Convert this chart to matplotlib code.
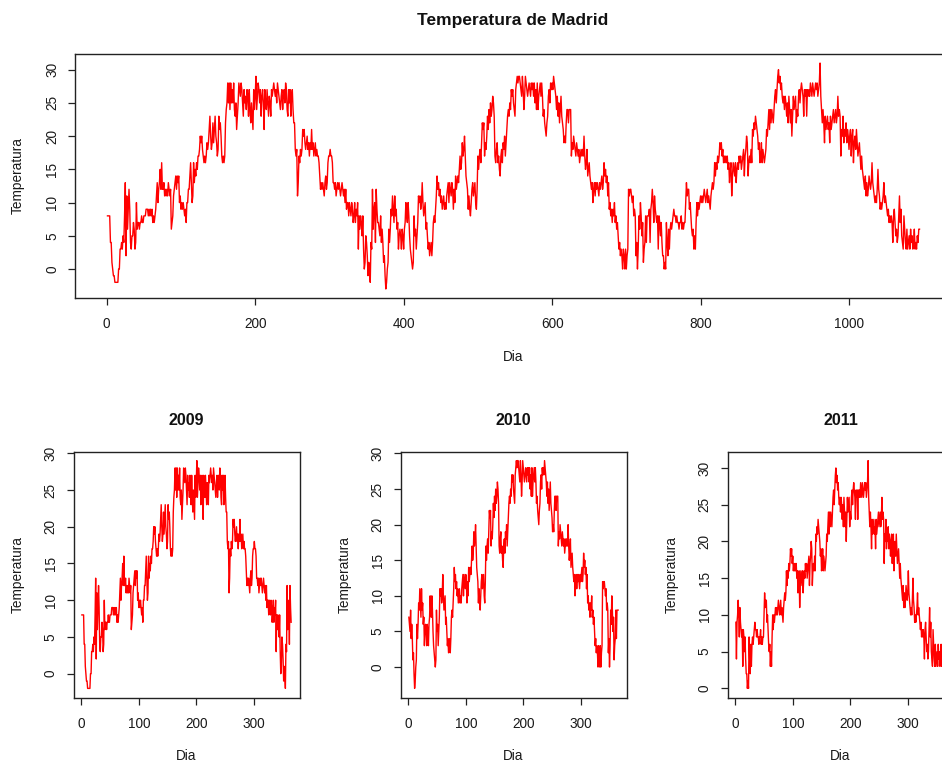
import numpy as np
import matplotlib
matplotlib.use("Agg")
import matplotlib.pyplot as plt
from matplotlib.ticker import MultipleLocator

plt.rcParams['font.family'] = ['Liberation Sans', 'DejaVu Sans']

# Daily temperatures, one list per year
temp_2009 = [
    8, 8, 8, 8, 4,  4, 1, 0, -1, -1,  -2, -2, -2, -2, -2,  0, 0, 3, 3, 4,
    3, 5, 4, 8, 13,  2, 11, 6, 9, 12,  9, 4, 3, 5, 5,  7, 6, 3, 4, 10,
    6, 7, 7, 6, 7,  7, 8, 7, 7, 8,  8, 8, 9, 9, 9,  8, 9, 8, 9, 8,
    9, 7, 8, 7, 8,  9, 11, 13, 10, 12,  13, 15, 12, 16, 12,  12, 13, 11, 12, 11,
    12, 11, 13, 12, 11,  12, 6, 7, 8, 11,  12, 13, 14, 12, 14,  13, 14, 10, 11, 9,
    10, 9, 10, 9, 8,  9, 7, 10, 10, 12,  12, 14, 16, 13, 10,  11, 16, 13, 15, 14,
    16, 15, 17, 17, 18,  20, 19, 20, 18, 17,  16, 17, 16, 17, 19,  18, 19, 21, 23, 20,
    18, 19, 22, 19, 21,  23, 20, 19, 17, 18,  23, 21, 22, 20, 17,  16, 17, 16, 17, 22,
    24, 25, 28, 25, 28,  24, 28, 25, 27, 25,  28, 24, 23, 25, 21,  23, 25, 28, 27, 26,
    28, 27, 25, 23, 27,  25, 26, 24, 27, 26,  23, 27, 24, 22, 25,  23, 21, 27, 24, 26,
    29, 24, 26, 28, 27,  25, 27, 23, 26, 27,  25, 21, 27, 25, 24,  27, 25, 23, 26, 25,
    23, 27, 26, 27, 28,  27, 26, 27, 25, 28,  27, 26, 25, 24, 26,  27, 24, 26, 27, 25,
    28, 27, 24, 23, 27,  25, 27, 23, 26, 27,  24, 22, 22, 18, 17,  18, 11, 13, 17, 16,
    18, 17, 18, 21, 20,  21, 19, 18, 19, 20,  18, 19, 17, 19, 18,  21, 18, 19, 17, 18,
    19, 17, 18, 17, 17,  16, 14, 12, 13, 12,  13, 12, 11, 13, 14,  12, 13, 16, 17, 17,
    18, 17, 17, 16, 13,  13, 12, 13, 11, 12,  13, 12, 13, 12, 11,  12, 13, 12, 11, 12,
    10, 12, 9, 10, 10,  8, 10, 9, 8, 10,  9, 7, 8, 10, 7,  9, 8, 10, 3, 8,
    6, 8, 7, 5, 8,  3, 0, 1, 5, 4,  2, -1, 1, 0, -2,  4, 3, 12, 6, 9,
    10, 4, 12, 9, 7,
]

temp_2010 = [
    7, 6, 5, 8, 4,  6, 4, 1, 2, -1,  -3, -2, 0, 1, 6,  4, 6, 9, 8, 11,
    9, 7, 11, 8, 9,  6, 7, 3, 5, 6,  5, 3, 6, 5, 3,  6, 7, 10, 8, 7,
    10, 8, 5, 3, 2,  1, 0, 1, 8, 5,  6, 3, 5, 7, 11,  10, 11, 9, 10, 13,
    10, 8, 9, 10, 6,  7, 5, 3, 4, 2,  3, 4, 2, 4, 7,  8, 7, 9, 11, 14,
    12, 13, 11, 12, 10,  11, 9, 10, 11, 9,  10, 9, 11, 12, 13,  10, 13, 12, 11, 13,
    12, 9, 12, 10, 14,  12, 13, 14, 13, 15,  17, 15, 16, 19, 17,  18, 20, 17, 14, 13,
    12, 9, 11, 9, 8,  10, 12, 13, 11, 12,  13, 10, 9, 12, 17,  15, 17, 18, 16, 19,
    22, 21, 22, 17, 19,  18, 20, 23, 21, 24,  22, 25, 23, 24, 26,  25, 23, 17, 16, 18,
    19, 16, 17, 15, 14,  17, 18, 16, 19, 18,  20, 17, 19, 21, 23,  24, 23, 25, 24, 27,
    26, 27, 25, 24, 23,  27, 28, 29, 28, 29,  29, 28, 27, 26, 29,  27, 24, 26, 29, 28,
    27, 26, 27, 28, 27,  26, 28, 27, 28, 26,  28, 25, 27, 24, 28,  24, 26, 27, 28, 26,
    28, 26, 23, 24, 22,  21, 20, 22, 23, 26,  27, 25, 28, 27, 28,  27, 29, 28, 27, 26,
    24, 26, 23, 25, 22,  24, 26, 23, 22, 21,  19, 20, 19, 22, 24,  24, 22, 24, 24, 24,
    17, 19, 18, 20, 19,  18, 17, 19, 18, 17,  18, 16, 17, 18, 17,  18, 17, 20, 17, 15,
    16, 18, 14, 15, 16,  14, 13, 12, 13, 10,  12, 13, 11, 13, 12,  13, 12, 11, 13, 12,
    13, 14, 12, 13, 16,  14, 15, 13, 14, 11,  13, 9, 10, 8, 9,  7, 9, 8, 10, 7,
    8, 6, 7, 5, 3,  4, 2, 3, 2, 0,  3, 2, 0, 3, 0,  2, 3, 12, 11, 12,
    12, 11, 10, 11, 8,  9, 8, 2, 4, 0,  3, 8, 6, 10, 8,  5, 7, 1, 3, 4,
    8, 4, 8, 8, 8,
]

temp_2011 = [
    9, 4, 9, 10, 12,  10, 7, 11, 9, 8,  7, 8, 3, 8, 7,  5, 7, 4, 2, 2,
    0, 1, 0, 7, 4,  2, 6, 3, 6, 7,  6, 7, 8, 9, 8,  8, 7, 8, 7, 7,
    6, 7, 7, 8, 6,  7, 6, 7, 7, 10,  13, 11, 12, 12, 9,  10, 8, 6, 5, 6,
    3, 5, 3, 7, 10,  8, 10, 9, 10, 11,  10, 11, 10, 11, 12,  11, 10, 11, 12, 10,
    11, 10, 9, 11, 12,  13, 12, 13, 16, 14,  16, 15, 17, 16, 17,  19, 18, 19, 17, 18,
    16, 17, 16, 17, 16,  17, 15, 16, 13, 15,  16, 11, 14, 16, 15,  14, 16, 13, 15, 16,
    15, 17, 16, 17, 15,  16, 17, 18, 14, 17,  18, 20, 19, 14, 16,  17, 16, 18, 16, 21,
    20, 22, 21, 23, 22,  21, 20, 18, 19, 16,  17, 19, 16, 18, 17,  16, 17, 18, 21, 20,
    22, 24, 21, 24, 22,  24, 23, 22, 24, 26,  27, 25, 27, 29, 30,  28, 29, 27, 28, 26,
    25, 26, 24, 26, 25,  23, 25, 22, 26, 24,  22, 24, 20, 23, 26,  24, 25, 26, 22, 24,
    23, 26, 27, 25, 27,  28, 27, 26, 23, 27,  26, 27, 23, 27, 26,  27, 26, 28, 27, 26,
    28, 27, 26, 27, 28,  27, 28, 26, 27, 28,  31, 26, 24, 22, 24,  22, 19, 23, 21, 22,
    23, 21, 22, 19, 23,  21, 22, 23, 24, 22,  23, 24, 22, 23, 26,  23, 24, 23, 17, 21,
    20, 23, 19, 21, 20,  22, 19, 21, 20, 18,  20, 21, 17, 20, 21,  16, 19, 20, 18, 21,
    19, 17, 18, 19, 17,  15, 17, 15, 14, 13,  12, 14, 11, 13, 11,  12, 14, 13, 12, 13,
    16, 13, 12, 11, 10,  11, 10, 12, 15, 12,  11, 9, 10, 9, 10,  11, 13, 10, 11, 10,
    9, 8, 9, 7, 8,  7, 8, 7, 4, 8,  9, 7, 5, 6, 4,  5, 8, 11, 7, 9,
    5, 4, 3, 8, 6,  4, 3, 6, 3, 4,  5, 3, 6, 4, 5,  3, 4, 6, 3, 4,
    3, 5, 4, 6, 6,
]

years = ["2009", "2010", "2011"]
series = [temp_2009, temp_2010, temp_2011]
all_temps = temp_2009 + temp_2010 + temp_2011

main_title = "Temperatura de Madrid"
xlabel = "Dia"
ylabel = "Temperatura"

W, H = 942, 762
fig = plt.figure(figsize=(W / 100, H / 100), dpi=100)

LINE_C = "#ff0000"
FRAME_C = "#222222"
TXT_C = "#1a1a1a"
FS = 9.8


def style(ax, xstep, ystep):
    ax.margins(x=0.04, y=0.04)
    ax.xaxis.set_major_locator(MultipleLocator(xstep))
    ax.yaxis.set_major_locator(MultipleLocator(ystep))
    for s in ax.spines.values():
        s.set_color(FRAME_C)
        s.set_linewidth(1.0)
    ax.tick_params(direction="out", length=5, width=0.9, color=FRAME_C,
                   labelsize=FS, labelcolor=TXT_C)
    ax.tick_params(axis="x", pad=9)
    ax.tick_params(axis="y", pad=6.5)
    for lab in ax.get_yticklabels():
        lab.set_rotation(90)
        lab.set_va("center")


def px_ax(left, top, right, bottom):
    return fig.add_axes([left / W, 1 - bottom / H, (right - left) / W, (bottom - top) / H])


# Top panel
ax = px_ax(75, 54, 952, 298)
days = np.arange(1, len(all_temps) + 1)
ax.plot(days, all_temps, color=LINE_C, lw=1.0)
style(ax, 200, 5)
ax.text((513 - 75) / 877, (298 - 20) / 244, main_title, transform=ax.transAxes,
        ha="center", va="center", fontsize=12.5, fontweight="bold", color="#111111")
ax.text((18 - 75) / 877, 0.5, ylabel, transform=ax.transAxes, rotation=90,
        ha="center", va="center", fontsize=FS, color=TXT_C)
ax.text((513 - 75) / 877, (298 - 357) / 244, xlabel, transform=ax.transAxes,
        ha="center", va="center", fontsize=FS, color=TXT_C)

# Bottom panels
lefts = [73.5, 400.5, 727.5]
for left, yr, vals in zip(lefts, years, series):
    a = px_ax(left, 451.5, left + 226, 697.5)
    d = np.arange(1, len(vals) + 1)
    a.plot(d, vals, color=LINE_C, lw=1.0)
    style(a, 100, 5)
    a.text(0.5, (697.5 - 420) / 246, yr, transform=a.transAxes,
           ha="center", va="center", fontsize=11.5, fontweight="bold", color="#111111")
    a.text(-55.5 / 226, 0.5, ylabel, transform=a.transAxes, rotation=90,
           ha="center", va="center", fontsize=FS, color=TXT_C)
    a.text(0.5, (697.5 - 756) / 246, xlabel, transform=a.transAxes,
           ha="center", va="center", fontsize=FS, color=TXT_C)

fig.savefig("out.png", dpi=100)
